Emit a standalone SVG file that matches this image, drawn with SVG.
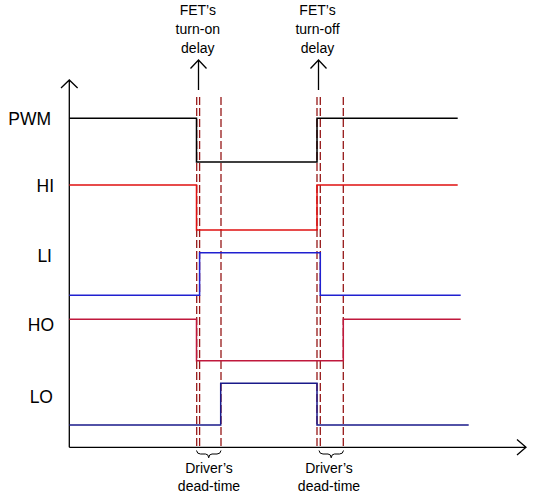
<svg xmlns="http://www.w3.org/2000/svg" width="537" height="502" viewBox="0 0 537 502">
<style>
.lbl{font-family:"Liberation Sans",Arial,sans-serif;font-size:17.5px;fill:#000;text-anchor:end}
.note{font-family:"Liberation Sans",Arial,sans-serif;font-size:14px;fill:#000;text-anchor:middle}
.axis{stroke:#000;stroke-width:1.3;fill:none}
.sig{fill:none;stroke-width:1.5}
.dash{stroke:#961818;stroke-width:1.3;stroke-dasharray:8 3;fill:none}
.brace{stroke:#000;stroke-width:1;fill:none}
</style>
<rect width="537" height="502" fill="#fff"/>
<g id="axes">
<path class="axis" d="M69.3,447.3 V80 M61,88 L69.3,80 L77.6,88"/>
<path class="axis" d="M69.3,447.3 H526 M517,439.5 L526,447.3 L517,455"/>
</g>
<g id="labels">
<text id="lbl-pwm" class="lbl" x="51" y="125">PWM</text>
<text id="lbl-hi" class="lbl" x="54" y="191.7">HI</text>
<text id="lbl-li" class="lbl" x="52" y="261.7">LI</text>
<text id="lbl-ho" class="lbl" x="54" y="331">HO</text>
<text id="lbl-lo" class="lbl" x="53" y="403.3">LO</text>
</g>
<g id="dashed-markers">
<path class="dash" d="M196.7,97 V449 M199.6,97 V449 M221,97 V449"/>
<path class="dash" d="M317,97 V449 M320.3,97 V449 M343.3,97 V449"/>
</g>
<g id="signals">
<path id="sig-pwm" class="sig" stroke="#000" d="M69.3,118.3 H196.5 V162 H317 V118.3 H457.7"/>
<path id="sig-hi" class="sig" stroke="#e01010" d="M69.3,185 H196.5 V230 H317 V185 H457.7"/>
<path id="sig-li" class="sig" stroke="#2020d0" d="M69.3,295.3 H199.6 V252.7 H320.3 V295.3 H460.7"/>
<path id="sig-ho" class="sig" stroke="#c0183c" d="M69.3,319.3 H196.5 V360.7 H343.3 V319.3 H460.7"/>
<path id="sig-lo" class="sig" stroke="#1a1a8a" d="M69.3,425 H220.7 V383.3 H317 V425 H468.7"/>
</g>
<g id="turn-on-note">
<path class="axis" d="M198.5,90 V60 M190.5,68.5 L198.5,60 L206.5,68.5"/>
<text class="note" x="197.8" y="14.5">FET’s</text>
<text class="note" x="197.8" y="33.5">turn-on</text>
<text class="note" x="197.8" y="52.5">delay</text>
</g>
<g id="turn-off-note">
<path class="axis" d="M318.5,90 V60 M310.5,68.5 L318.5,60 L326.5,68.5"/>
<text class="note" x="317.5" y="14.5">FET’s</text>
<text class="note" x="317.5" y="33.5">turn-off</text>
<text class="note" x="317.5" y="52.5">delay</text>
</g>
<g id="deadtime-1">
<path class="brace" d="M196.5,450.5 Q197,454 200.5,454 L205.5,454 Q208.5,454 208.7,457.8 Q209,454 212,454 L217,454 Q220.5,454 221,450.5"/>
<text class="note" x="209" y="473.3">Driver’s</text>
<text class="note" x="209" y="490.7">dead-time</text>
</g>
<g id="deadtime-2">
<path class="brace" d="M319,450.5 Q319.5,454 323,454 L328,454 Q331,454 331.2,457.8 Q331.5,454 334.5,454 L339.5,454 Q343,454 343.5,450.5"/>
<text class="note" x="329" y="473.3">Driver’s</text>
<text class="note" x="329" y="490.7">dead-time</text>
</g>
</svg>
